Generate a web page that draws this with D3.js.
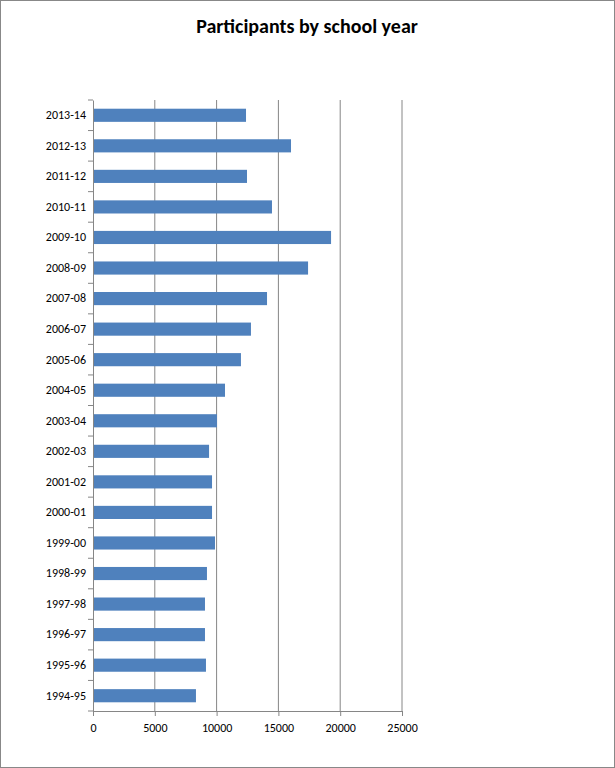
<!DOCTYPE html>
<html><head><meta charset="utf-8">
<script src="https://cdn.jsdelivr.net/npm/d3@7"></script>
<style>body{margin:0;background:#fff}</style>
</head><body>
<script>
const years = ['1994-95','1995-96','1996-97','1997-98','1998-99','1999-00','2000-01','2001-02','2002-03','2003-04',
  '2004-05','2005-06','2006-07','2007-08','2008-09','2009-10','2010-11','2011-12','2012-13','2013-14'];
const participants = [8330,9140,9060,9060,9220,9870,9630,9630,9390,10030,
  10680,11970,12780,14080,17400,19260,14480,12460,16020,12380];
const xTicks = [0,5000,10000,15000,20000,25000];

(function () {
const W = 615, H = 768;
const svg = d3.select('body').append('svg').attr('width', W).attr('height', H);
svg.append('rect').attr('x',0.5).attr('y',0.5).attr('width',W-1).attr('height',H-1)
  .attr('fill','#fff').attr('stroke','#888');

const font = 'Calibri, Carlito, "Liberation Sans", Arial';
svg.append('text').attr('x', 307).attr('y', 33).attr('text-anchor','middle')
  .style('font-family',font).style('font-weight','bold')
  .style('font-size','20px').text('Participants by school year');

const pl = 93, pr = 402, pt = 100, pb = 711;
const x = d3.scaleLinear().domain([0,25000]).range([pl,pr]);
const y = d3.scaleBand().domain(years.slice().reverse()).range([pt,pb]).paddingInner(0.57).paddingOuter(0.285);

// gridlines
svg.append('g').selectAll('line').data(xTicks.slice(1)).join('line')
  .attr('x1', d => x(d)).attr('x2', d => x(d)).attr('y1', pt).attr('y2', pb)
  .attr('stroke','#868686');

svg.append('g').selectAll('rect').data(years).join('rect')
  .attr('x', pl).attr('y', d => y(d))
  .attr('width', (d,i) => x(participants[i]) - pl).attr('height', y.bandwidth())
  .attr('fill','#4f81bd');

const xa = svg.append('g').attr('transform',`translate(0,${pb})`)
  .call(d3.axisBottom(x).tickValues(xTicks).tickSize(5).tickSizeOuter(0).tickFormat(d3.format('d')));
xa.selectAll('text').style('font-family',font).style('font-size','12px').attr('dy','1.1em');
xa.selectAll('path,line').attr('stroke','#868686');

const outer = d3.scaleBand().domain(years.slice().reverse()).range([pt,pb]);
const ya = svg.append('g').attr('transform',`translate(${pl},0)`)
  .call(d3.axisLeft(outer).tickSize(0).tickSizeOuter(0));
ya.selectAll('text').style('font-family',font).style('font-size','12px').attr('dx','-4').attr('fill','#000');
ya.selectAll('path').attr('stroke','#868686');
// category separator ticks
svg.append('g').selectAll('line').data(d3.range(years.length+1)).join('line')
  .attr('x1', pl-5).attr('x2', pl)
  .attr('y1', i => pt + i*outer.step()).attr('y2', i => pt + i*outer.step())
  .attr('stroke','#868686');
})();
</script>
</body></html>
